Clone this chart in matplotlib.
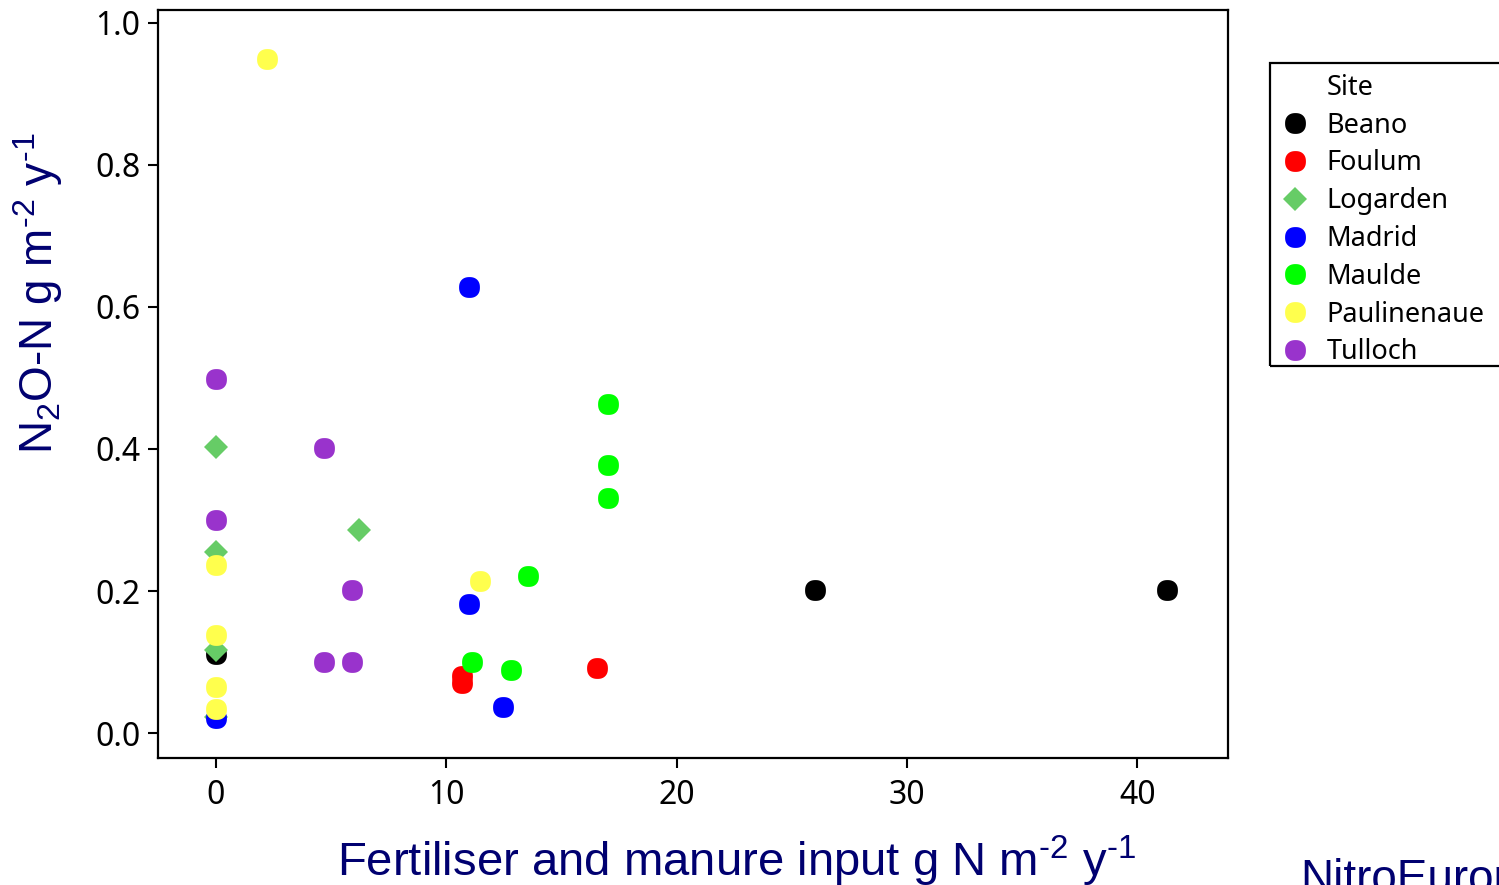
import numpy as np
import matplotlib.pyplot as plt
from matplotlib.lines import Line2D
from matplotlib.patches import Rectangle

sites = ["Beano", "Foulum", "Logarden", "Madrid", "Maulde", "Paulinenaue", "Tulloch"]
colours = ["#000000", "#FF0000", "#66CC66", "#0000FF", "#00FF00", "#FFFF4D", "#9933CC"]
markers = ["o", "o", "D", "o", "o", "o", "o"]

# fertiliser input (g N m-2 y-1) and N2O-N (g m-2 y-1) per site
beano_x = [26.0, 41.3, 0.0]
beano_y = [0.201, 0.201, 0.112]
foulum_x = [10.7, 10.7, 16.55]
foulum_y = [0.080, 0.070, 0.092]
logarden_x = [0.0, 6.2, 0.0, 0.0, 0.0]
logarden_y = [0.403, 0.286, 0.255, 0.117, 0.023]
madrid_x = [11.0, 11.0, 12.45, 0.0]
madrid_y = [0.628, 0.182, 0.037, 0.022]
maulde_x = [17.0, 17.0, 17.0, 13.55, 11.1, 12.8]
maulde_y = [0.463, 0.377, 0.331, 0.221, 0.100, 0.089]
paulinenaue_x = [2.2, 11.45, 0.0, 0.0, 0.0, 0.0]
paulinenaue_y = [0.949, 0.214, 0.237, 0.138, 0.065, 0.034]
tulloch_x = [0.0, 4.7, 0.0, 5.9, 4.7, 5.9]
tulloch_y = [0.499, 0.401, 0.300, 0.201, 0.100, 0.100]

xs = [beano_x, foulum_x, logarden_x, madrid_x, maulde_x, paulinenaue_x, tulloch_x]
ys = [beano_y, foulum_y, logarden_y, madrid_y, maulde_y, paulinenaue_y, tulloch_y]

navy = "#000070"
tickfont = "Noto Sans"

# slightly squared circle marker like the original software draws
t = np.linspace(0, 2 * np.pi, 80)
n = 2.3
sq = np.column_stack([np.sign(np.cos(t)) * np.abs(np.cos(t)) ** (2 / n),
                      np.sign(np.sin(t)) * np.abs(np.sin(t)) ** (2 / n)])

fig = plt.figure(figsize=(14.99, 8.85), dpi=100)
ax = fig.add_axes([158 / 1499, 1 - 758 / 885, (1228 - 158) / 1499, (758 - 10) / 885])

handles = [Line2D([], [], linestyle="none", marker="o", color="none", label="Site")]
for i in range(len(sites)):
    if markers[i] == "D":
        mk = "D"
        ms = 12.5
    else:
        mk = sq
        ms = 15
    ax.plot(xs[i], ys[i], linestyle="none", marker=mk, markersize=ms,
            color=colours[i], markeredgewidth=0)
    handles.append(Line2D([], [], linestyle="none", marker=mk, markersize=ms,
                          color=colours[i], markeredgewidth=0, label=sites[i]))

ax.set_xlim(-2.52, 43.94)
ax.set_ylim(-0.035, 1.018)
ax.set_xticks([0, 10, 20, 30, 40])
ax.set_yticks([0.0, 0.2, 0.4, 0.6, 0.8, 1.0])
ax.set_yticklabels(["0.0", "0.2", "0.4", "0.6", "0.8", "1.0"])
ax.tick_params(axis="both", labelsize=23, width=1.5, direction="out")
ax.tick_params(axis="x", length=7, pad=8)
ax.tick_params(axis="y", length=7.5, pad=5)
for lab in ax.get_xticklabels() + ax.get_yticklabels():
    lab.set_family(tickfont)
for s in ax.spines.values():
    s.set_linewidth(1.6)

fig.text(737 / 1499, 1 - 876 / 885,
         "Fertiliser and manure input g N m$^{\\mathregular{\u2010 2}}$ y$^{\\mathregular{\u2010 1}}$",
         family="Liberation Sans", fontsize=34, color=navy, ha="center", va="baseline")
fig.text(53 / 1499, 1 - 293 / 885,
         "N$_{\\mathregular{2}}$O-N g m$^{\\mathregular{\u2010 2}}$ y$^{\\mathregular{\u2010 1}}$",
         family="Liberation Sans", fontsize=33, color=navy, ha="center", va="baseline",
         rotation=90, rotation_mode="anchor")
fig.text(1300 / 1499, 1 - 858 / 885, "NitroEurope", family="Liberation Sans",
         fontsize=33, color=navy, ha="left", va="top")

leg = fig.legend(handles=handles, loc="upper left", bbox_to_anchor=(1287 / 1499, 1 - 74 / 885),
                 frameon=False, prop={"family": tickfont, "size": 19.5}, handlelength=0.6,
                 handletextpad=0.85, labelspacing=0.36, borderpad=0, borderaxespad=0)
fig.patches.append(Rectangle((1270 / 1499, 1 - 366 / 885), 260 / 1499, 303 / 885,
                             transform=fig.transFigure, fill=False, edgecolor="black",
                             linewidth=1.6, clip_on=False))

fig.savefig("out.png", dpi=100)
